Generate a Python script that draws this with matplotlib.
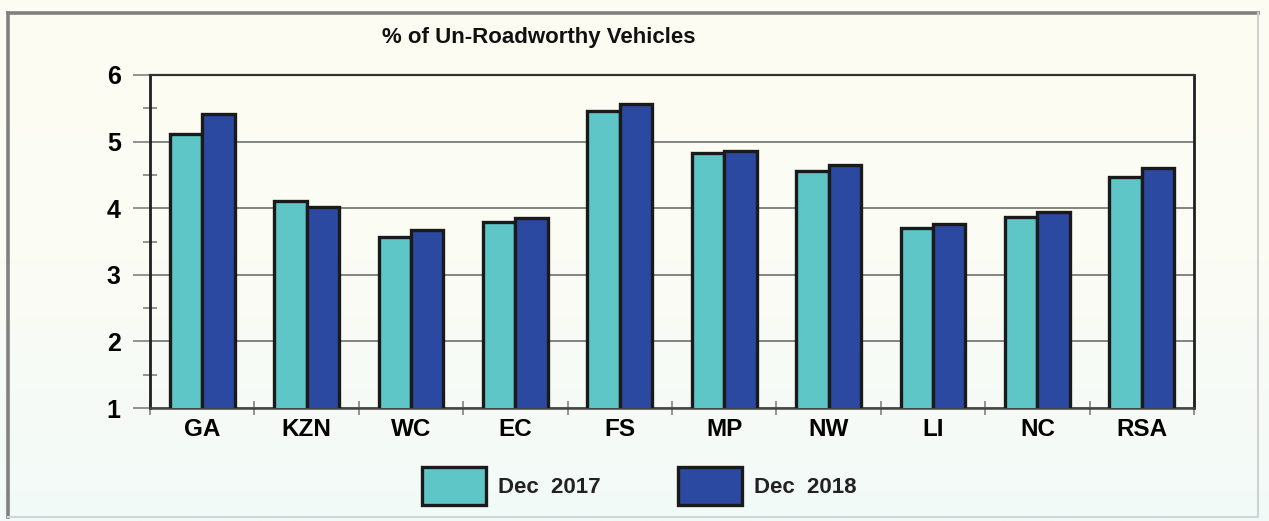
import matplotlib
matplotlib.use("Agg")
import matplotlib.pyplot as plt
import numpy as np
from matplotlib.lines import Line2D
from matplotlib.colors import LinearSegmentedColormap

categories = ["GA", "KZN", "WC", "EC", "FS", "MP", "NW", "LI", "NC", "RSA"]
dec2017 = [5.12, 4.11, 3.57, 3.80, 5.46, 4.83, 4.56, 3.71, 3.87, 4.47]
dec2018 = [5.41, 4.02, 3.67, 3.85, 5.56, 4.86, 4.65, 3.76, 3.94, 4.61]
series_labels = ["Dec  2017", "Dec  2018"]
yticks = [1, 2, 3, 4, 5, 6]
title = "% of Un-Roadworthy Vehicles"

plt.rcParams['font.family'] = ['Liberation Sans', 'DejaVu Sans']

W, H = 1269, 521
fig = plt.figure(figsize=(W / 100, H / 100), dpi=100)

# background gradient
bg = fig.add_axes([0, 0, 1, 1], zorder=-10)
cmap = LinearSegmentedColormap.from_list("bg", ["#fdfdf3", "#fbfcf4", "#f2faf8"])
grad = np.linspace(0, 1, 256).reshape(-1, 1)
bg.imshow(grad, aspect="auto", cmap=cmap, extent=[0, 1, 0, 1], origin="upper")
bg.set_xlim(0, 1)
bg.set_ylim(0, 1)
bg.axis("off")
# outer frame
x0, x1 = 8 / W, 1258 / W
y0, y1 = 1 - 517 / H, 1 - 13 / H
bg.add_line(Line2D([x0, x1], [y1, y1], color="#808080", linewidth=2.6))
bg.add_line(Line2D([x0, x0], [y0, y1], color="#808080", linewidth=2.6))
bg.add_line(Line2D([x1, x1], [y0, y1], color="#d0d0d0", linewidth=1.5))
bg.add_line(Line2D([x0, x1], [y0, y0], color="#d0d6d4", linewidth=1.5))

ax = fig.add_axes([150 / W, 1 - 408 / H, (1194 - 150) / W, (408 - 75) / H])
ax.set_facecolor("none")

x = np.arange(len(categories))
w = 0.31
ax.bar(x - w / 2, dec2017, w, bottom=0, color="#5ec6c7", edgecolor="#1a1a1a",
       linewidth=2.4, label=series_labels[0], zorder=3)
ax.bar(x + w / 2, dec2018, w, bottom=0, color="#2b49a0", edgecolor="#1a1a1a",
       linewidth=2.4, label=series_labels[1], zorder=3)

ax.set_xlim(-0.5, len(categories) - 0.5)
ax.set_ylim(1, 6)
ax.set_yticks(yticks)
ax.set_yticklabels([str(v) for v in yticks], fontsize=18, fontweight="bold")
ax.set_yticks(np.arange(1.5, 6, 1.0), minor=True)
ax.tick_params(axis="y", which="major", direction="out", length=12, width=1.2,
               color="#808080", pad=9)
ax.tick_params(axis="y", which="minor", direction="inout", length=10, width=1.2,
               color="#808080")
ax.yaxis.grid(True, which="major", color="#7a7a7a", linewidth=1.3, zorder=0)

ax.set_xticks(x)
ax.set_xticklabels(categories, fontsize=17.5, fontweight="bold")
ax.set_xticks(np.arange(-0.5, len(categories), 1.0), minor=True)
ax.tick_params(axis="x", which="major", length=0, pad=7)
ax.tick_params(axis="x", which="minor", direction="inout", length=10, width=1.2,
               color="#808080")

for s in ["left", "right"]:
    ax.spines[s].set_color("#1f1f1f")
    ax.spines[s].set_linewidth(2)
ax.spines["top"].set_color("#333333")
ax.spines["top"].set_linewidth(1.6)
ax.spines["bottom"].set_color("#444444")
ax.spines["bottom"].set_linewidth(1.8)

fig.text(539 / W, 1 - 38 / H, title, fontsize=16, fontweight="bold",
         ha="center", va="center", color="#111111")

leg = fig.legend(loc="center", bbox_to_anchor=(639 / W, 1 - 486 / H), ncol=2,
                 frameon=False, prop={"weight": "bold", "size": 16},
                 handlelength=2.9, handleheight=2.2, columnspacing=3.5,
                 handletextpad=0.5)
for t in leg.get_texts():
    t.set_color("#222222")

fig.savefig("out.png", dpi=100)
